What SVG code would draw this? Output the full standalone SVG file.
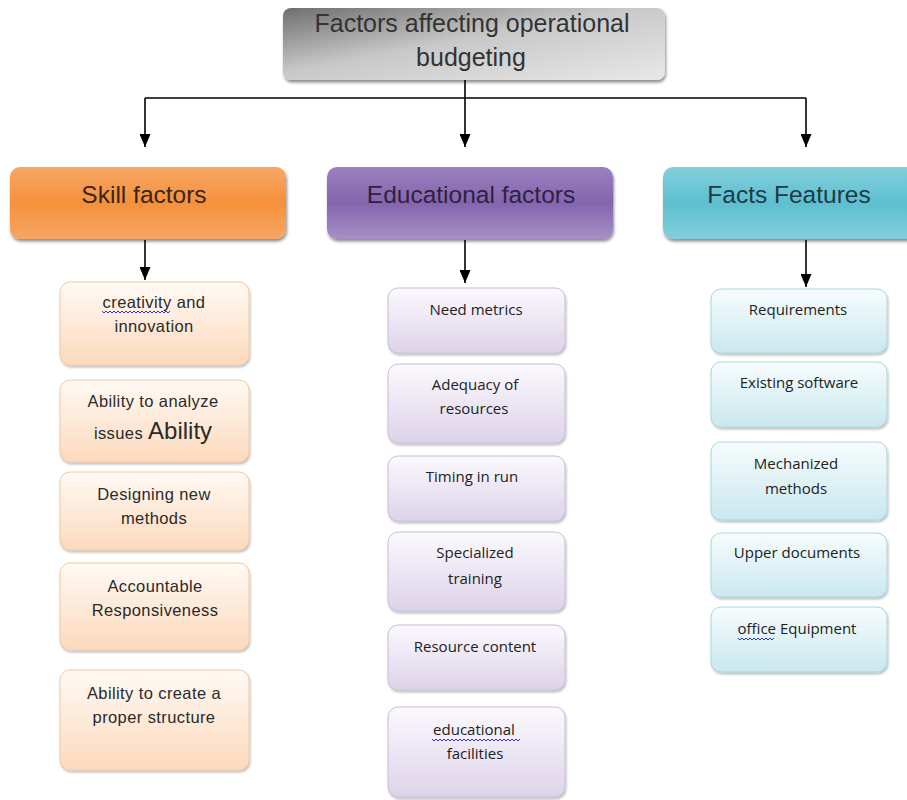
<svg xmlns="http://www.w3.org/2000/svg" width="907" height="800" viewBox="0 0 907 800">
<style>
.t{font-family:"Liberation Sans",Arial,sans-serif;text-anchor:middle}
.c{font-family:"Open Sans","Noto Sans",sans-serif;text-anchor:middle;font-size:15px;fill:#222}
.s{font-family:"Liberation Sans",Arial,sans-serif;text-anchor:middle;font-size:16.5px;letter-spacing:0.4px;fill:#2a2a2a}
.h{font-size:24.5px}
.cn{stroke:#000;stroke-width:1.6;fill:none}
.wv{stroke:#3333cc;stroke-width:1;fill:none}
</style>
<defs>
<linearGradient id="gTop" x1="0" y1="0" x2="1" y2="1">
<stop offset="0" stop-color="#6e6e6e"/><stop offset="0.45" stop-color="#c8c8c8"/><stop offset="1" stop-color="#e8e8e8"/>
</linearGradient>
<linearGradient id="gOr" x1="0" y1="0" x2="0" y2="1">
<stop offset="0" stop-color="#f7a766"/><stop offset="0.5" stop-color="#f5913c"/><stop offset="1" stop-color="#f7a666"/>
</linearGradient>
<linearGradient id="gPu" x1="0" y1="0" x2="0" y2="1">
<stop offset="0" stop-color="#9b80bf"/><stop offset="0.5" stop-color="#8465ad"/><stop offset="1" stop-color="#a590c6"/>
</linearGradient>
<linearGradient id="gCy" x1="0" y1="0" x2="0" y2="1">
<stop offset="0" stop-color="#82d0dc"/><stop offset="0.5" stop-color="#5dbfcf"/><stop offset="1" stop-color="#84cfdb"/>
</linearGradient>
<linearGradient id="lOr" x1="0" y1="0" x2="0" y2="1">
<stop offset="0" stop-color="#fffaf5"/><stop offset="1" stop-color="#fcd9bc"/>
</linearGradient>
<linearGradient id="lPu" x1="0" y1="0" x2="0" y2="1">
<stop offset="0" stop-color="#fbf9fd"/><stop offset="1" stop-color="#ddd3e9"/>
</linearGradient>
<linearGradient id="lCy" x1="0" y1="0" x2="0" y2="1">
<stop offset="0" stop-color="#f7fcfd"/><stop offset="1" stop-color="#c9e8ee"/>
</linearGradient>
<filter id="sh" x="-10%" y="-10%" width="120%" height="130%">
<feDropShadow dx="1" dy="2.5" stdDeviation="1.5" flood-color="#000" flood-opacity="0.45"/>
</filter>
<filter id="sh2" x="-10%" y="-10%" width="120%" height="130%">
<feDropShadow dx="1" dy="2" stdDeviation="1.2" flood-color="#000" flood-opacity="0.25"/>
</filter>
<marker id="ar" viewBox="0 0 13 11" refX="13" refY="5.5" markerWidth="13" markerHeight="11" markerUnits="userSpaceOnUse" orient="auto">
<path d="M0,0 L13,5.5 L0,11 Z" fill="#000"/>
</marker>
</defs>

<g id="connectors">
<path class="cn" d="M465,80 V98"/>
<path class="cn" d="M145,98 H806"/>
<path class="cn" d="M145,98 V147" marker-end="url(#ar)"/>
<path class="cn" d="M465,98 V147" marker-end="url(#ar)"/>
<path class="cn" d="M806,98 V147" marker-end="url(#ar)"/>
<path class="cn" d="M145,240 V280" marker-end="url(#ar)"/>
<path class="cn" d="M465,240 V283" marker-end="url(#ar)"/>
<path class="cn" d="M806,240 V287" marker-end="url(#ar)"/>
</g>

<g id="root">
<rect x="283" y="8" width="382" height="72" rx="8" fill="url(#gTop)" filter="url(#sh)"/>
<text class="t" x="472" y="32" font-size="25" fill="#333">Factors affecting operational</text>
<text class="t" x="471" y="66" font-size="25" fill="#333">budgeting</text>
</g>

<g id="skill">
<rect x="10" y="167" width="276" height="72" rx="10" fill="url(#gOr)" filter="url(#sh)"/>
<text class="t h" x="144" y="203" fill="#3a2414">Skill factors</text>
</g>
<g id="educational">
<rect x="327" y="167" width="286" height="72" rx="10" fill="url(#gPu)" filter="url(#sh)"/>
<text class="t h" x="471" y="203" fill="#2e2240">Educational factors</text>
</g>
<g id="facts">
<rect x="663" y="167" width="260" height="72" rx="10" fill="url(#gCy)" filter="url(#sh)"/>
<text class="t h" x="789" y="203" fill="#1f3a44">Facts Features</text>
</g>

<g id="s1"><rect x="60" y="282" width="189" height="83" rx="10" fill="url(#lOr)" stroke="#f0c8a6" filter="url(#sh2)"/>
<text class="s" x="154" y="308">creativity and</text><text class="s" x="154" y="332">innovation</text>
<path class="wv" d="M102,311 l2,2 l2,-2 l2,2 l2,-2 l2,2 l2,-2 l2,2 l2,-2 l2,2 l2,-2 l2,2 l2,-2 l2,2 l2,-2 l2,2 l2,-2 l2,2 l2,-2 l2,2 l2,-2 l2,2 l2,-2 l2,2 l2,-2 l2,2 l2,-2 l2,2 l2,-2 l2,2 l2,-2 l2,2 l2,-2 l2,2 l2,-2"/></g>
<g id="s2"><rect x="60" y="380" width="189" height="82" rx="10" fill="url(#lOr)" stroke="#f0c8a6" filter="url(#sh2)"/>
<text class="s" x="153" y="407">Ability to analyze</text><text class="s" x="153" y="439">issues <tspan font-size="24" letter-spacing="0">Ability</tspan></text></g>
<g id="s3"><rect x="60" y="472" width="189" height="78" rx="10" fill="url(#lOr)" stroke="#f0c8a6" filter="url(#sh2)"/>
<text class="s" x="154" y="500">Designing new</text><text class="s" x="154" y="524">methods</text></g>
<g id="s4"><rect x="60" y="563" width="189" height="87" rx="10" fill="url(#lOr)" stroke="#f0c8a6" filter="url(#sh2)"/>
<text class="s" x="155" y="592">Accountable</text><text class="s" x="155" y="616">Responsiveness</text></g>
<g id="s5"><rect x="60" y="670" width="189" height="100" rx="10" fill="url(#lOr)" stroke="#f0c8a6" filter="url(#sh2)"/>
<text class="s" x="154" y="699">Ability to create a</text><text class="s" x="154" y="723">proper structure</text></g>

<g id="e1"><rect x="388" y="288" width="177" height="65" rx="10" fill="url(#lPu)" stroke="#c8bcd8" filter="url(#sh2)"/>
<text class="c" x="476" y="315">Need metrics</text></g>
<g id="e2"><rect x="388" y="364" width="177" height="79" rx="10" fill="url(#lPu)" stroke="#c8bcd8" filter="url(#sh2)"/>
<text class="c" x="475" y="390">Adequacy of</text><text class="c" x="474" y="414">resources</text></g>
<g id="e3"><rect x="388" y="456" width="177" height="65" rx="10" fill="url(#lPu)" stroke="#c8bcd8" filter="url(#sh2)"/>
<text class="c" x="472" y="482">Timing in run</text></g>
<g id="e4"><rect x="388" y="532" width="177" height="79" rx="10" fill="url(#lPu)" stroke="#c8bcd8" filter="url(#sh2)"/>
<text class="c" x="475" y="558">Specialized</text><text class="c" x="475" y="584">training</text></g>
<g id="e5"><rect x="388" y="625" width="177" height="65" rx="10" fill="url(#lPu)" stroke="#c8bcd8" filter="url(#sh2)"/>
<text class="c" x="475" y="652">Resource content</text></g>
<g id="e6"><rect x="388" y="707" width="177" height="90" rx="10" fill="url(#lPu)" stroke="#c8bcd8" filter="url(#sh2)"/>
<text class="c" x="474" y="735">educational</text><text class="c" x="475" y="759">facilities</text>
<path class="wv" d="M432,739 l2,2 l2,-2 l2,2 l2,-2 l2,2 l2,-2 l2,2 l2,-2 l2,2 l2,-2 l2,2 l2,-2 l2,2 l2,-2 l2,2 l2,-2 l2,2 l2,-2 l2,2 l2,-2 l2,2 l2,-2 l2,2 l2,-2 l2,2 l2,-2 l2,2 l2,-2 l2,2 l2,-2 l2,2 l2,-2 l2,2 l2,-2 l2,2 l2,-2 l2,2 l2,-2 l2,2 l2,-2 l2,2 l2,-2 l2,2 l2,-2"/></g>

<g id="f1"><rect x="711" y="289" width="176" height="64" rx="10" fill="url(#lCy)" stroke="#a9d6df" filter="url(#sh2)"/>
<text class="c" x="798" y="315">Requirements</text></g>
<g id="f2"><rect x="711" y="362" width="176" height="65" rx="10" fill="url(#lCy)" stroke="#a9d6df" filter="url(#sh2)"/>
<text class="c" x="799" y="388">Existing software</text></g>
<g id="f3"><rect x="711" y="442" width="176" height="78" rx="10" fill="url(#lCy)" stroke="#a9d6df" filter="url(#sh2)"/>
<text class="c" x="796" y="469">Mechanized</text><text class="c" x="796" y="494">methods</text></g>
<g id="f4"><rect x="711" y="533" width="176" height="64" rx="10" fill="url(#lCy)" stroke="#a9d6df" filter="url(#sh2)"/>
<text class="c" x="797" y="558">Upper documents</text></g>
<g id="f5"><rect x="711" y="607" width="176" height="65" rx="10" fill="url(#lCy)" stroke="#a9d6df" filter="url(#sh2)"/>
<text class="c" x="797" y="634">office Equipment</text>
<path class="wv" d="M738,638 l2,2 l2,-2 l2,2 l2,-2 l2,2 l2,-2 l2,2 l2,-2 l2,2 l2,-2 l2,2 l2,-2 l2,2 l2,-2 l2,2 l2,-2 l2,2 l2,-2"/></g>
</svg>
